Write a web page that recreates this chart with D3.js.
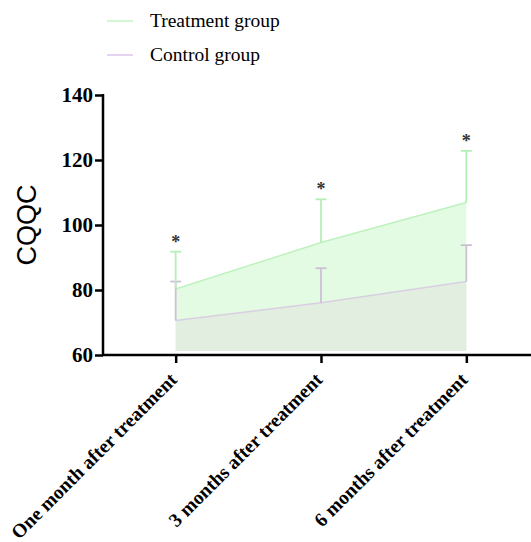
<!DOCTYPE html>
<html>
<head>
<meta charset="utf-8">
<script src="https://cdn.jsdelivr.net/npm/d3@7"></script>
<style>
  body { margin: 0; background: #fff; }
</style>
</head>
<body>
<div class="container"></div>
<script>
// chart values
const timepoints = ['One month after treatment', '3 months after treatment', '6 months after treatment']
const treatmentMean = [80.3, 94.6, 106.9]
const treatmentErr = [11.5, 13.3, 15.9]
const controlMean = [70.6, 76.1, 82.6]
const controlErr = [12.0, 10.6, 11.2]
const yTicks = [60, 80, 100, 120, 140]
const seriesNames = ['Treatment group', 'Control group']

const serif = "'Liberation Serif'"
const sans = "'Liberation Sans'"

const width = 531
const height = 542

const svg = d3.select('.container')
    .append('svg')
    .attr('width', width)
    .attr('height', height)

const x = d3.scalePoint()
    .domain(timepoints)
    .range([103, 539])
    .padding(0.5)

const y = d3.scaleLinear()
    .domain([60, 140])
    .range([355, 95])

const areaBase = 61.2

const treatment = timepoints.map((t, i) => ({ t: t, mean: treatmentMean[i], err: treatmentErr[i] }))
const control = timepoints.map((t, i) => ({ t: t, mean: controlMean[i], err: controlErr[i] }))

const area = d3.area()
    .x(d => x(d.t))
    .y0(y(areaBase))
    .y1(d => y(d.mean))

const line = d3.line()
    .x(d => x(d.t))
    .y(d => y(d.mean))

// treatment area
svg.append('path')
    .datum(treatment)
    .attr('d', area)
    .attr('fill', '#e4fbe3')

// control area on top
svg.append('path')
    .datum(control)
    .attr('d', area)
    .attr('fill', '#e1eee0')

svg.append('path')
    .datum(treatment)
    .attr('d', line)
    .attr('fill', 'none')
    .attr('stroke', '#bdf2bd')
    .attr('stroke-width', 1.5)

svg.append('path')
    .datum(control)
    .attr('d', line)
    .attr('fill', 'none')
    .attr('stroke', '#d9cfe2')
    .attr('stroke-width', 1.5)

// error bars (upper only)
const errorBars = (data, color) => {
    const g = svg.append('g')
    g.selectAll('line.v')
        .data(data)
        .enter()
        .append('line')
        .attr('x1', d => x(d.t))
        .attr('x2', d => x(d.t))
        .attr('y1', d => y(d.mean))
        .attr('y2', d => y(d.mean + d.err))
        .attr('stroke', color)
        .attr('stroke-width', 1.8)
    g.selectAll('line.cap')
        .data(data)
        .enter()
        .append('line')
        .attr('x1', d => x(d.t) - 5.5)
        .attr('x2', d => x(d.t) + 5.5)
        .attr('y1', d => y(d.mean + d.err))
        .attr('y2', d => y(d.mean + d.err))
        .attr('stroke', color)
        .attr('stroke-width', 1.8)
}
errorBars(control, '#cdbfd6')
errorBars(treatment, '#b6efb6')

// significance stars
svg.append('g')
    .selectAll('text')
    .data(treatment)
    .enter()
    .append('text')
    .attr('x', d => x(d.t))
    .attr('y', d => y(d.mean + d.err) - 4)
    .attr('text-anchor', 'middle')
    .style('font-family', serif)
    .style('font-size', '18px')
    .style('font-weight', 'bold')
    .attr('fill', '#333')
    .text('*')

// axes
const yAxis = d3.axisLeft(y)
    .tickValues(yTicks)
    .tickSize(8)
    .tickPadding(2)

const gy = svg.append('g')
    .attr('transform', 'translate(103,0)')
    .call(yAxis)
gy.select('.domain').attr('stroke', '#000').attr('stroke-width', 2.5)
    .attr('d', 'M0,' + (y(140) - 1) + 'V' + (y(60) + 1))
gy.selectAll('.tick line').attr('stroke', '#000').attr('stroke-width', 2.5)
gy.selectAll('.tick text')
    .style('font-family', serif)
    .style('font-size', '21px')
    .style('font-weight', 'bold')
    .attr('fill', '#000')

const xAxis = d3.axisBottom(x)
    .tickSize(8)
    .tickSizeOuter(0)

const gx = svg.append('g')
    .attr('transform', 'translate(0,355)')
    .call(xAxis)
gx.select('.domain').attr('stroke', '#000').attr('stroke-width', 2.5)
    .attr('d', 'M102,0H531')
gx.selectAll('.tick line').attr('stroke', '#000').attr('stroke-width', 2.5)
gx.selectAll('.tick text')
    .style('font-family', serif)
    .style('font-size', '19.5px')
    .style('font-weight', 'bold')
    .attr('fill', '#000')
    .attr('text-anchor', 'end')
    .attr('dy', 0)
    .attr('y', 0)
    .attr('transform', 'translate(2,26) rotate(-45)')

// y axis title
svg.append('text')
    .attr('transform', 'translate(36,225) rotate(-90)')
    .attr('text-anchor', 'middle')
    .style('font-family', sans)
    .style('font-size', '27px')
    .attr('fill', '#000')
    .text('CQQC')

// legend
const legendColors = ['#c4f3c4', '#dcc4ee']
const legend = svg.append('g')
legend.selectAll('line')
    .data(seriesNames)
    .enter()
    .append('line')
    .attr('x1', 107)
    .attr('x2', 133)
    .attr('y1', (d, i) => 21 + i * 34)
    .attr('y2', (d, i) => 21 + i * 34)
    .attr('stroke', (d, i) => legendColors[i])
    .attr('stroke-width', 1.5)
legend.selectAll('text')
    .data(seriesNames)
    .enter()
    .append('text')
    .attr('x', 150)
    .attr('y', (d, i) => 27 + i * 34)
    .style('font-family', serif)
    .style('font-size', '19.5px')
    .attr('fill', '#000')
    .text(d => d)
</script>
</body>
</html>
